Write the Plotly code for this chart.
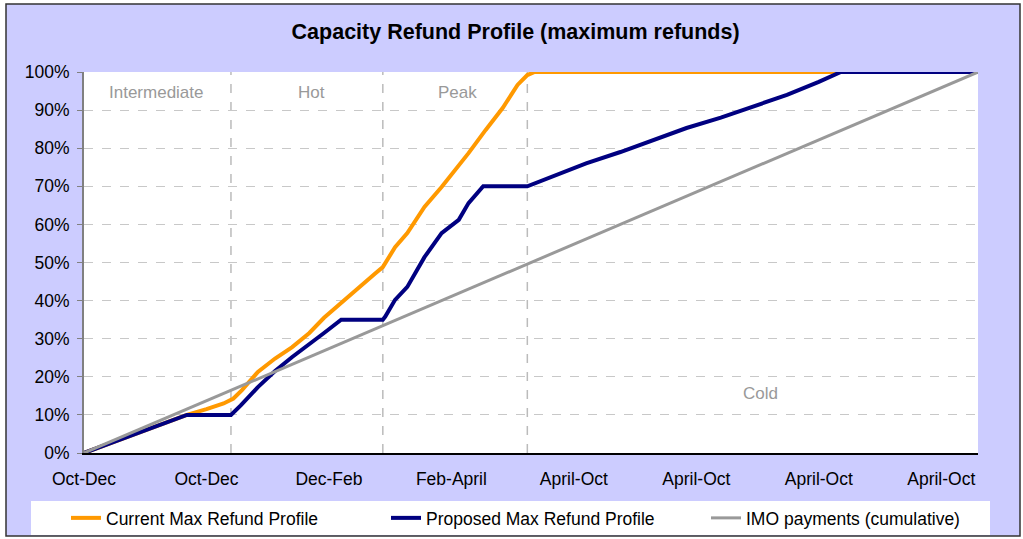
import plotly.graph_objects as go

# ---- data (x = day of the capacity year starting 1 October) ----
tick_days = [0, 50, 100, 150, 200, 250, 300, 350]
tick_labels = ["Oct-Dec", "Oct-Dec", "Dec-Feb", "Feb-April",
               "April-Oct", "April-Oct", "April-Oct", "April-Oct"]

current_days = [0, 14, 28, 42, 50, 57, 61, 64.5, 71, 78, 85, 92, 98, 105, 112,
                119, 122, 127, 132, 139, 146, 150, 157, 164, 171, 177, 181, 184, 365]
current_vals = [0, 3.4, 6.8, 10.0, 11.5, 13.0, 14.3, 16.5, 21.3, 24.8, 27.8, 31.5,
                35.5, 39.4, 43.6, 47.2, 48.8, 54.0, 57.7, 64.6, 69.8, 73.0, 78.7,
                84.8, 90.6, 96.6, 99.2, 100, 100]

proposed_days = [0, 14, 28, 42, 60, 64, 71, 78, 85, 92, 98, 105, 122, 123, 127,
                 132, 139, 146, 153, 157, 163, 181, 191, 205, 219, 232, 246, 260,
                 273, 287, 300, 309, 365]
proposed_vals = [0, 3.4, 6.8, 10.0, 10.0, 12.5, 17.3, 21.5, 25.2, 28.5, 31.5, 35.0,
                 35.0, 35.8, 40.2, 43.6, 51.4, 57.7, 61.2, 65.6, 70.0, 70.0, 72.4,
                 76.0, 79.0, 82.0, 85.3, 88.0, 90.8, 94.0, 97.4, 100, 100]

imo_days = [0, 61, 122, 182, 243, 304, 365]
imo_vals = [0, 16.7, 33.4, 50.0, 66.6, 83.3, 100]

season_bounds = [60, 122, 181]
season_names = ["Intermediate", "Hot", "Peak", "Cold"]
season_label_x = [29.8, 92.7, 152.3, 276.4]
season_label_y = [94.5, 94.5, 94.5, 15.7]

FONT = "Liberation Sans, Arial, sans-serif"
LAVENDER = "#CCCCFF"

fig = go.Figure()
fig.add_trace(go.Scatter(x=current_days, y=current_vals, mode="lines",
                         name="Current Max Refund Profile",
                         line=dict(color="#FF9900", width=4)))
fig.add_trace(go.Scatter(x=proposed_days, y=proposed_vals, mode="lines",
                         name="Proposed Max Refund Profile",
                         line=dict(color="#000080", width=4)))
fig.add_trace(go.Scatter(x=imo_days, y=imo_vals, mode="lines",
                         name="IMO payments (cumulative)",
                         line=dict(color="#999999", width=3)))

W, H = 1023, 539
L, R, T, B = 84, 978, 72, 453
pw, ph = R - L, B - T


def px(xp):
    return (xp - L) / pw


def py(yp):
    return (B - yp) / ph


shapes = []
# chart area (lavender) with border
shapes.append(dict(type="rect", xref="paper", yref="paper",
                   x0=px(6), x1=px(1020), y0=py(536), y1=py(4),
                   fillcolor=LAVENDER,
                   line=dict(color="#333333", width=1.5), layer="below"))
# plot area background
shapes.append(dict(type="rect", xref="paper", yref="paper",
                   x0=0, x1=1, y0=0, y1=1,
                   fillcolor="white", line=dict(width=0), layer="below"))
# legend white box
shapes.append(dict(type="rect", xref="paper", yref="paper",
                   x0=px(31), x1=px(990), y0=py(535), y1=py(501),
                   fillcolor="white", line=dict(width=0), layer="below"))
# season separators
for d in season_bounds:
    shapes.append(dict(type="line", xref="x", yref="y", x0=d, x1=d, y0=0, y1=100,
                       line=dict(color="#BBBBBB", width=1.5, dash="dash"),
                       layer="below"))
fig.update_layout(shapes=shapes)

for name, x, y in zip(season_names, season_label_x, season_label_y):
    fig.add_annotation(x=x, y=y, xref="x", yref="y", text=name, showarrow=False,
                       font=dict(family=FONT, size=17, color="#999999"))

fig.update_layout(
    template="none",
    width=W, height=H,
    margin=dict(l=L, r=W - R, t=T, b=H - B, pad=0, autoexpand=False),
    paper_bgcolor="white",
    plot_bgcolor="rgba(0,0,0,0)",
    font=dict(family=FONT, size=17, color="black"),
    title=dict(text="<b>Capacity Refund Profile (maximum refunds)</b>",
               x=0.504, xanchor="center", xref="container",
               y=1 - 31 / H, yanchor="middle", yref="container",
               font=dict(family=FONT, size=21.5, color="black")),
    showlegend=True,
    legend=dict(orientation="h", x=px(66), xanchor="left", xref="paper",
                y=py(518), yanchor="middle", yref="paper",
                bgcolor="rgba(0,0,0,0)", borderwidth=0,
                entrywidth=275, entrywidthmode="pixels",
                font=dict(family=FONT, size=17.5, color="black")),
    xaxis=dict(range=[0, 365], tickmode="array", tickvals=tick_days,
               ticktext=tick_labels, showgrid=False, zeroline=False,
               showline=True, linecolor="black", linewidth=1.5,
               ticks="", ticklabelstandoff=9, automargin=False,
               tickfont=dict(family=FONT, size=17.5, color="black")),
    yaxis=dict(range=[0, 100], tickmode="linear", tick0=0, dtick=10,
               ticksuffix="%", showgrid=True, gridcolor="#C8C8C8",
               griddash="dash", gridwidth=1, zeroline=False,
               showline=True, linecolor="#808080", linewidth=2,
               ticks="outside", ticklen=5, tickcolor="#808080",
               ticklabelstandoff=4, automargin=False,
               tickfont=dict(family=FONT, size=17.5, color="black")),
)

fig.write_html("out.html",
               config={"displayModeBar": False},
               post_script="document.body.style.margin='0px';")
